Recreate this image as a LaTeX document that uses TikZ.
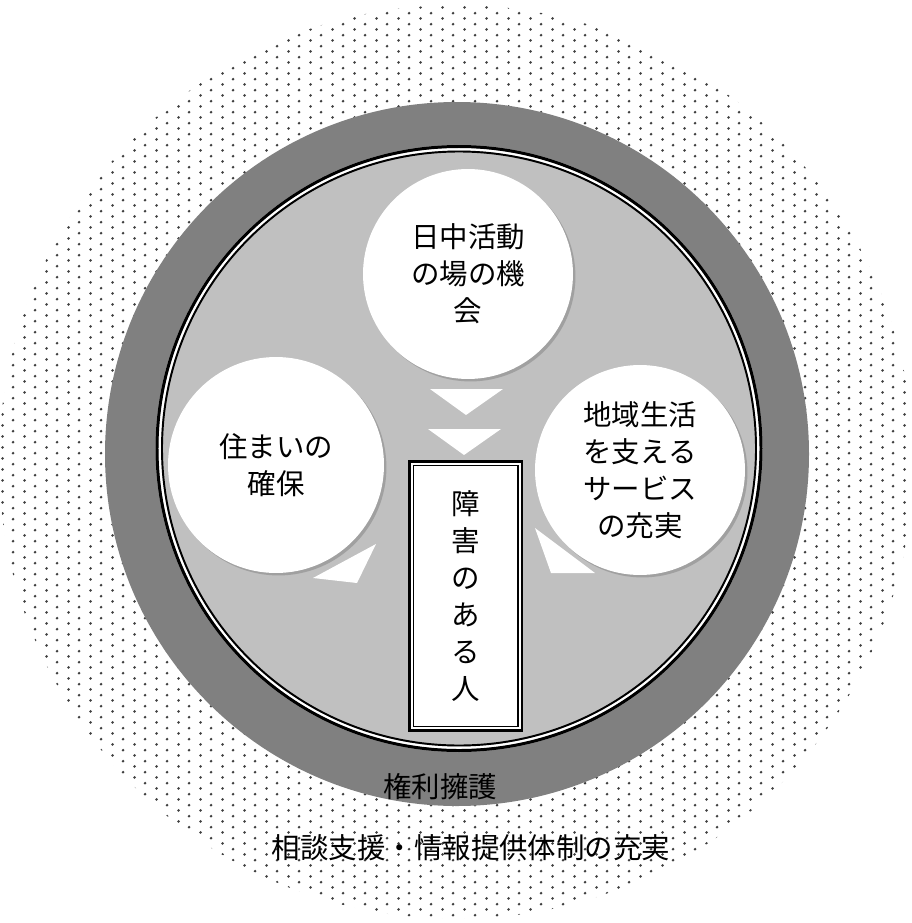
\documentclass[tikz,border=0pt]{standalone}
\usepackage{fontspec}
\newfontfamily\jp{Noto Sans CJK JP}
\usepackage{tikz}
\usetikzlibrary{patterns,shadows}
\definecolor{ringgray}{HTML}{808080}
\definecolor{fieldgray}{HTML}{C0C0C0}
\definecolor{shadegray}{HTML}{A0A0A0}
\definecolor{dotgray}{HTML}{404040}
\pgfdeclarepatternformonly{sparsedots}{\pgfpointorigin}{\pgfqpoint{12.25pt}{6.12pt}}{\pgfqpoint{12.25pt}{6.12pt}}{%
  \pgfpathcircle{\pgfqpoint{1.5pt}{1.5pt}}{0.85pt}%
  \pgfpathcircle{\pgfqpoint{7.62pt}{4.56pt}}{0.85pt}%
  \pgfusepath{fill}}
\tikzstyle{jptext}=[font=\jp\fontsize{16.2}{21}\selectfont, align=center, inner sep=0pt]
\tikzstyle{bubble}=[jptext, circle, fill=white, minimum size=4.2cm, general shadow={fill=shadegray, shadow xshift=1.4pt, shadow yshift=-1.4pt}]
\tikzstyle{personbox}=[jptext, draw=black, line width=1.7pt, fill=white, minimum width=2.25cm, minimum height=5.38cm]
\tikzstyle{wedge}=[fill=white]

\begin{document}
\begin{tikzpicture}[x=0.02cm, y=-0.02cm]
		   \useasboundingbox (0,0) rectangle (912,923);
		   \begin{scope}
			   \fill [pattern=sparsedots, pattern color=dotgray] (456,462) circle (457);
			   \fill [ringgray] (457,454) circle (352);
			   \fill [fieldgray] (459,448.5) circle (303.5);
			   \draw [white, line width=1.5pt] (459,448.5) circle (299.3);
			   \draw [black, line width=1.7pt] (459,448.5) circle (302);
			   \draw [black, line width=1.1pt] (459,448.5) circle (297);
		   \end{scope}
		   \begin{scope}
			   \node (daytime) at (468, 274)[bubble] {日中活動\\の場の機\\会};
			   \node (housing) at (276, 465)[bubble, minimum size=4.32cm] {住まいの\\確保};
			   \node (service) at (640, 470)[bubble] {地域生活\\を支える\\サービス\\の充実};
			   \node (person) at (465.75, 596)[personbox] {障\\害\\の\\あ\\る\\人};
			   \draw [line width=1pt] ([shift={(5.5,5.5)}]person.north west) rectangle ([shift={(-5.5,-5.5)}]person.south east);
		   \end{scope}
		   \begin{scope}
			   \fill [wedge] (430,389) -- (503,389) -- (466,415) -- cycle;
			   \fill [wedge] (428,429) -- (501,429) -- (464,455) -- cycle;
			   \fill [wedge] (376,544) -- (313,578) -- (357,583) -- cycle;
			   \fill [wedge] (535,528) -- (551,573) -- (595,573) -- cycle;
		   \end{scope}
		   \node (rights) at (440, 787)[jptext] {権利擁護};
		   \node (support) at (471, 848)[jptext] {相談支援・情報提供体制の充実};
	   \end{tikzpicture}
\end{document}
